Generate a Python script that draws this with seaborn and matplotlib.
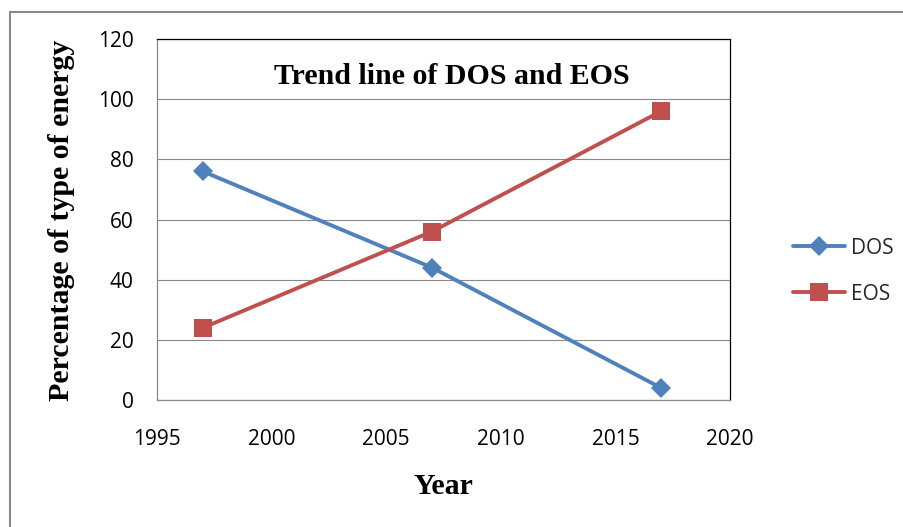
import pandas as pd
import numpy as np
import matplotlib.pyplot as plt
import seaborn as sns
from matplotlib.patches import Rectangle

# values
years = [1997, 2007, 2017]
dos = [76, 44, 4]
eos = [24, 56, 96]
series_names = ['DOS', 'EOS']
colors = ['#4F81BD', '#C0504D']

df = pd.DataFrame({
    'Year': years * 2,
    'Value': dos + eos,
    'Series': ['DOS'] * len(years) + ['EOS'] * len(years),
})

sns.set_style('white')
plt.rcParams['font.family'] = ['Open Sans', 'DejaVu Sans']

fig = plt.figure(figsize=(9.04, 5.27), dpi=100)
ax = fig.add_axes([157 / 904, 1 - 400 / 527, 573 / 904, 361 / 527])

# DOS line with diamonds, EOS line with squares
sns.lineplot(data=df[df['Series'] == 'DOS'], x='Year', y='Value', color=colors[0],
             marker='D', markersize=10.5, markeredgewidth=0, linewidth=2.8, label='DOS', ax=ax)
sns.lineplot(data=df[df['Series'] == 'EOS'], x='Year', y='Value', color=colors[1],
             marker='s', markersize=13, markeredgewidth=0, linewidth=2.8, label='EOS', ax=ax)

ax.set_xlim(1995, 2020)
ax.set_ylim(0, 120)
ax.set_xticks(np.arange(1995, 2021, 5))
ax.set_yticks(np.arange(0, 121, 20))
ax.grid(axis='y', color='#898989', linewidth=0.8)
ax.set_axisbelow(True)
ax.set_xlabel('')
ax.set_ylabel('')

for side in ['left', 'bottom']:
    ax.spines[side].set_color('#898989')
    ax.spines[side].set_linewidth(0.9)
for side in ['top', 'right']:
    ax.spines[side].set_color('black')
    ax.spines[side].set_linewidth(0.9)

ax.tick_params(axis='both', direction='out', length=7, width=0.9, color='#898989',
               labelsize=15, labelcolor='black')
ax.tick_params(axis='y', pad=10)
ax.tick_params(axis='x', pad=14)

serif = dict(family='Liberation Serif', fontweight='bold', fontsize=21.5, color='black')
ax.text(0.515, 0.895, 'Trend line of DOS and EOS', transform=ax.transAxes,
        ha='center', va='center', **serif)
fig.text(443 / 904, 1 - 487 / 527, 'Year', ha='center', va='center', **serif)
fig.text(62 / 904, 1 - 220 / 527, 'Percentage of type of energy', rotation=90,
         ha='center', va='center', **serif)

ax.get_legend().remove()
fig.legend(handles=ax.get_lines()[:2], labels=series_names, loc='center left',
           bbox_to_anchor=(793 / 904, 1 - 271 / 527), frameon=False, fontsize=15,
           borderpad=0, borderaxespad=0, handlelength=2.5, handletextpad=0.3,
           labelspacing=1.2)

# outer chart border (cut off on the right and bottom)
fig.patches.append(Rectangle((10 / 904, -0.1), 1.2, 1.1 - 12 / 527, transform=fig.transFigure,
                             fill=False, edgecolor='#888888', linewidth=1.5))

plt.savefig('out.png', dpi=100)
